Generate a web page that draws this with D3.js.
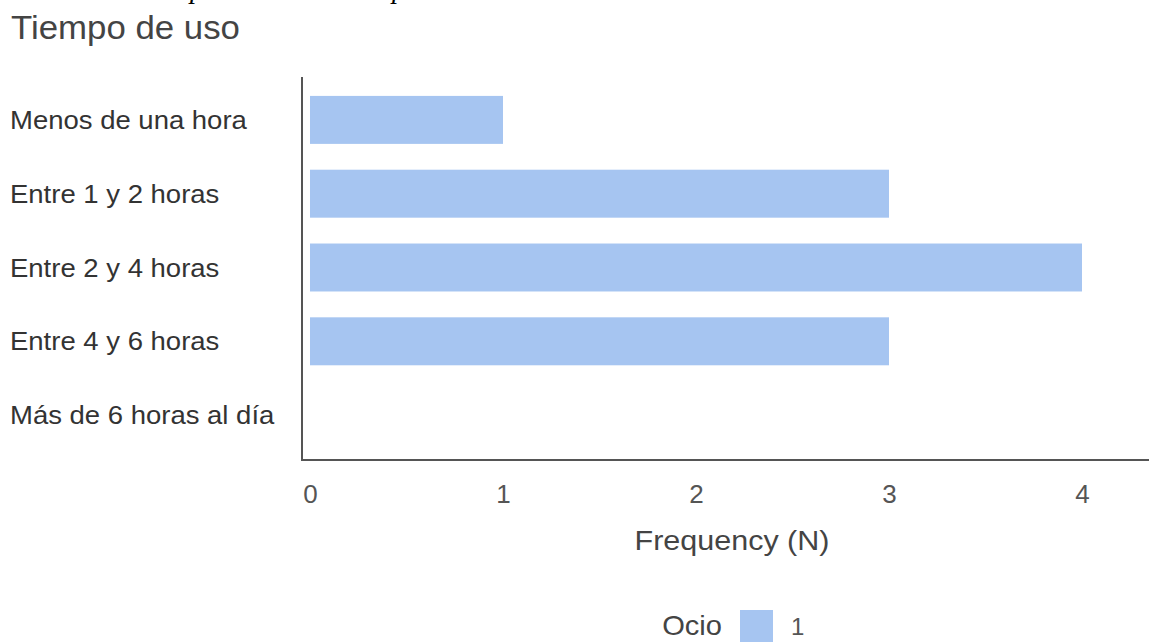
<!DOCTYPE html>
<html>
<head>
<meta charset="utf-8">
<script src="https://cdn.jsdelivr.net/npm/d3@7"></script>
<style>
  html, body { margin: 0; padding: 0; background: #fff; }
  svg { display: block; }
</style>
</head>
<body>
<svg id="chart" width="1149" height="642"></svg>
<script>
const categories = ["Menos de una hora", "Entre 1 y 2 horas", "Entre 2 y 4 horas", "Entre 4 y 6 horas", "Más de 6 horas al día"];
const values = [1, 3, 4, 3, 0];
const xTicks = [0, 1, 2, 3, 4];
const seriesName = "1";
const legendTitle = "Ocio";
const title = "Tiempo de uso";
const xTitle = "Frequency (N)";

const svg = d3.select("#chart");
const font = "'Liberation Sans', Arial, sans-serif";

const x = d3.scaleLinear().domain([0, 4]).range([310, 1082]);
const y = d3.scaleBand().domain(categories).range([83, 452]).paddingInner(0.35).paddingOuter(0.175);

// cut-off caption fragments at the very top
svg.append("g").selectAll("text").data([190, 392]).join("text")
  .attr("x", d => d).attr("y", -2)
  .attr("font-family", "'Liberation Serif', 'Times New Roman', serif")
  .attr("font-style", "italic").attr("font-size", 28).attr("fill", "#000")
  .text("p");

// title
svg.append("text").attr("transform", "translate(11,39) scale(1.055,1)")
  .attr("font-family", font).attr("font-size", 33).attr("fill", "#444")
  .text(title);

// bars
svg.append("g").selectAll("rect").data(values.map((v, i) => ({c: categories[i], v})).filter(d => d.v > 0)).join("rect")
  .attr("x", x(0)).attr("y", d => y(d.c))
  .attr("width", d => x(d.v) - x(0)).attr("height", y.bandwidth())
  .attr("fill", "#a6c5f1");

// y labels
svg.append("g").selectAll("text").data(categories).join("text")
  .attr("transform", d => `translate(10,${y(d) + y.bandwidth() / 2 + 9}) scale(1.1,1)`)
  .attr("font-family", font).attr("font-size", 25).attr("fill", "#333")
  .text(d => d);

// axes lines
svg.append("path").attr("d", "M302,77V460H1149")
  .attr("fill", "none").attr("stroke", "#555").attr("stroke-width", 2);

// x axis tick labels via d3 axis
const xAxis = d3.axisBottom(x).tickValues(xTicks).tickSize(0).tickPadding(0).tickFormat(d3.format("d"));
const gx = svg.append("g").attr("transform", "translate(0,503)").call(xAxis);
gx.select(".domain").remove();
gx.selectAll("text").attr("font-family", font).attr("font-size", 26).attr("fill", "#555").attr("dy", 0).attr("y", 0);

// x title
svg.append("text").attr("transform", "translate(732,550) scale(1.09,1)").attr("text-anchor", "middle")
  .attr("font-family", font).attr("font-size", 28).attr("fill", "#444")
  .text(xTitle);

// legend
svg.append("text").attr("transform", "translate(722,635) scale(1.04,1)").attr("text-anchor", "end")
  .attr("font-family", font).attr("font-size", 28).attr("fill", "#444").text(legendTitle);
svg.append("rect").attr("x", 740).attr("y", 610).attr("width", 33).attr("height", 35).attr("fill", "#a6c5f1");
svg.append("text").attr("x", 791).attr("y", 635)
  .attr("font-family", font).attr("font-size", 24).attr("fill", "#555").text(seriesName);
</script>
</body>
</html>
